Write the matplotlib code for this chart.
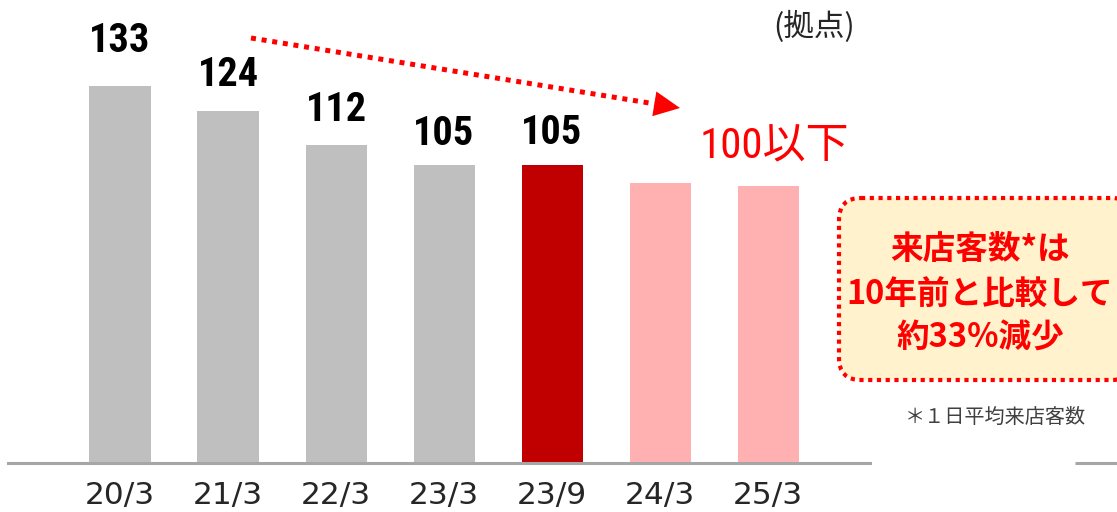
import matplotlib
matplotlib.use("Agg")
import matplotlib.pyplot as plt
from matplotlib.patches import FancyBboxPatch, Polygon
import numpy as np
import logging
logging.getLogger('matplotlib.font_manager').setLevel(logging.ERROR)

plt.rcParams['font.family'] = ['DejaVu Sans', 'Noto Sans CJK JP']

# ---- data ----
categories = ['20/3', '21/3', '22/3', '23/3', '23/9', '24/3', '25/3']
values = [133, 124, 112, 105, 105, 98.8, 97.7]
value_labels = ['133', '124', '112', '105', '105', '', '']
bar_kinds = ['past', 'past', 'past', 'past', 'current', 'plan', 'plan']
target_label = '100以下'
unit_label = '(拠点)'
callout_lines = ['来店客数*は', '10年前と比較して', '約33%減少']
footnote = '＊１日平均来店客数'

# ---- style ----
kind_colors = {'past': '#BFBFBF', 'current': '#C00000', 'plan': '#FFB1B1'}
label_offsets_px = [45, 36, 35, 31, 32, 0, 0]
W, H = 1117, 512
narrow = ['Roboto Condensed', 'PT Sans Narrow', 'Archivo Narrow', 'Fira Sans Condensed']

fig = plt.figure(figsize=(W / 100, H / 100), dpi=100)
ax = fig.add_axes([8 / W, 49 / H, 862 / W, 463 / H])
x = np.arange(len(categories))
ax.bar(x, values, width=0.565, color=[kind_colors[k] for k in bar_kinds], zorder=2)
ax.set_xlim(-1.037, 6.944)
ax.set_ylim(0, 163.3)
for s in ['top', 'left', 'right']:
    ax.spines[s].set_visible(False)
ax.spines['bottom'].set_color('#A6A6A6')
ax.spines['bottom'].set_linewidth(2.2)
ax.spines['bottom'].set_zorder(3)
ax.set_yticks([])
ax.set_xticks(x, categories)
ax.tick_params(axis='x', length=0, pad=13, labelsize=22.5, labelcolor='#262626')
for lab in ax.get_xticklabels():
    lab.set_family(['DejaVu Sans'])

for i, (v, t) in enumerate(zip(values, value_labels)):
    if t:
        ax.annotate(t, xy=(i, v), xytext=(0, label_offsets_px[i] * 0.72),
                    textcoords='offset points', ha='center', va='center',
                    fontsize=29, fontweight='bold', color='black',
                    family=narrow + ['DejaVu Sans'])

# ---- overlay in pixel coordinates ----
ov = fig.add_axes([0, 0, 1, 1], zorder=5)
ov.set_xlim(0, W)
ov.set_ylim(H, 0)
ov.axis('off')
ov.patch.set_alpha(0)

red = '#FF0000'
# dotted trend arrow
tip = np.array([680.0, 108.0])
start = np.array([251.0, 38.0])
d = tip - start
d /= np.linalg.norm(d)
n = np.array([-d[1], d[0]])
base = tip - d * 26
ov.plot([start[0], base[0]], [start[1], base[1]], color=red, lw=3.6,
        dashes=(1, 1.15), solid_capstyle='butt', dash_capstyle='butt')
ov.add_patch(Polygon([tip, base + n * 12.5, base - n * 12.5], closed=True,
                     facecolor=red, edgecolor='none'))

ov.text(774, 147, target_label, ha='center', va='center', fontsize=31,
        color=red, family=narrow + ['Noto Sans CJK JP'])
ov.text(814, 27, unit_label, ha='center', va='center', fontsize=22,
        color='#262626', family=['Noto Sans CJK JP'])

box = FancyBboxPatch((839, 198), 295, 182, boxstyle='round,pad=0,rounding_size=22',
                     facecolor='#FFF2CC', edgecolor=red, lw=3, linestyle=(0, (1, 1.1)))
ov.add_patch(box)
for yy, line in zip([250, 295, 338], callout_lines):
    ov.text(980, yy, line, ha='center', va='center', fontsize=23.5,
            fontweight='bold', color=red, family=['Noto Sans CJK JP'])
ov.text(995, 417, footnote, ha='center', va='center', fontsize=14.5,
        color='#404040', family=['Noto Sans CJK JP'])
ov.plot([1075, W], [463, 463], color='#A6A6A6', lw=2.2, solid_capstyle='butt')

fig.savefig('out.png', dpi=100)
